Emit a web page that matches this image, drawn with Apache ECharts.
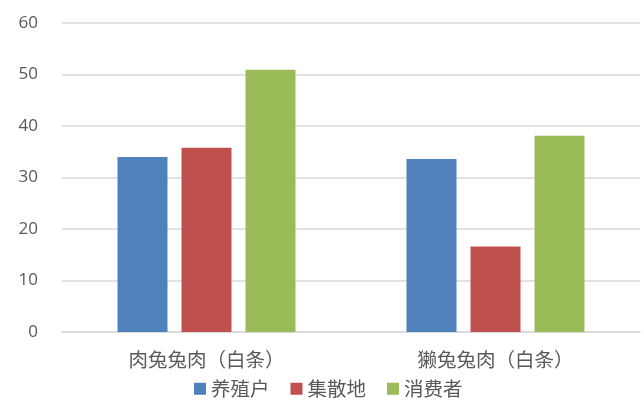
<!DOCTYPE html>
<html><head><meta charset="utf-8">
<script src="https://cdn.jsdelivr.net/npm/echarts@6/dist/echarts.min.js"></script>
<style>html,body{margin:0;padding:0;background:#fff}#c{width:644px;height:417px}</style>
</head><body><div id="c"></div>
<script>
const categories = ['肉兔兔肉（白条）', '獭兔兔肉（白条）'];
const seriesNames = ['养殖户', '集散地', '消费者'];
const farmer = [34.0, 33.6];
const market = [35.8, 16.6];
const consumer = [50.9, 38.1];
const colors = ['#4F81BD', '#C0504D', '#9BBB59'];
const chart = echarts.init(document.getElementById('c'));
const cjk = '"Noto Sans CJK SC", sans-serif';
chart.setOption({
  animation: false,
  color: colors,
  grid: {left: 62, right: 4, top: 23, bottom: 85},
  legend: {
    data: seriesNames, top: 374, left: 189, itemWidth: 12, itemHeight: 12, itemGap: 21,
    icon: 'rect', textStyle: {fontFamily: cjk, fontSize: 19.5, color: '#595959'}
  },
  xAxis: {
    type: 'category', data: categories,
    axisLine: {lineStyle: {color: '#D9D9D9', width: 1.5}}, axisTick: {show: false},
    axisLabel: {fontFamily: cjk, fontSize: 19.5, color: '#595959', margin: 18}
  },
  yAxis: {
    type: 'value', min: 0, max: 60, interval: 10,
    axisLine: {show: false}, axisTick: {show: false},
    splitLine: {lineStyle: {color: '#D9D9D9', width: 1.5}},
    axisLabel: {fontFamily: '"Open Sans", sans-serif', fontSize: 17, color: '#595959', margin: 24}
  },
  series: [
    {name: seriesNames[0], type: 'bar', data: farmer, barWidth: 50, barGap: '28%'},
    {name: seriesNames[1], type: 'bar', data: market, barWidth: 50, barGap: '28%'},
    {name: seriesNames[2], type: 'bar', data: consumer, barWidth: 50, barGap: '28%'}
  ]
});
</script></body></html>
